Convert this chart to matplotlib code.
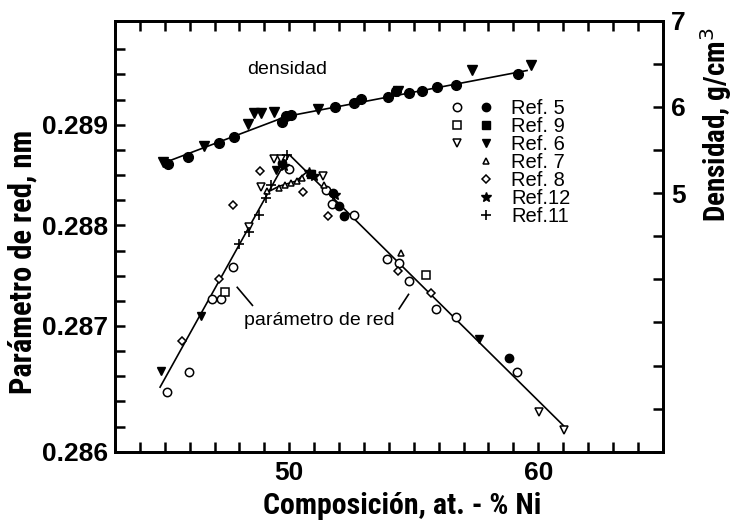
import numpy as np
import matplotlib
matplotlib.use("Agg")
from matplotlib import pyplot as plt
from matplotlib.ticker import MultipleLocator, FixedLocator
from matplotlib.lines import Line2D
from matplotlib.legend_handler import HandlerTuple

plt.rcParams['font.family'] = ['Liberation Sans', 'DejaVu Sans']
narrow = ['Liberation Sans Narrow', 'Arial Narrow', 'Roboto Condensed', 'Archivo Narrow',
          'PT Sans Narrow', 'Liberation Sans', 'DejaVu Sans']

# densidad (eje derecho, g/cm3)
dens_ref5_x = [45.12, 45.92, 47.19, 47.77, 49.71, 49.87, 50.07, 51.85, 52.61, 52.88,
               53.98, 54.30, 54.79, 55.35, 55.92, 56.69, 59.20]
dens_ref5_y = [5.34, 5.42, 5.58, 5.65, 5.82, 5.89, 5.91, 6.00, 6.05, 6.09,
               6.12, 6.18, 6.16, 6.19, 6.23, 6.25, 6.38]
dens_ref6_x = [44.92, 46.59, 48.33, 48.60, 48.86, 49.40, 51.14, 54.38, 57.35, 59.70]
dens_ref6_y = [5.36, 5.55, 5.80, 5.93, 5.93, 5.94, 5.97, 6.18, 6.43, 6.49]
dens_fit_x = [44.92, 49.88, 59.55]
dens_fit_y = [5.346, 5.889, 6.422]

# parametro de red (eje izquierdo, nm)
ref5_open_x = [45.08, 45.96, 46.90, 47.26, 47.73, 50.00, 51.47, 51.71, 52.61, 53.94,
               54.41, 54.81, 55.91, 56.69, 59.16]
ref5_open_y = [0.286345, 0.286544, 0.287272, 0.287265, 0.287585, 0.288565, 0.288356,
               0.288214, 0.288101, 0.287662, 0.287629, 0.287446, 0.287173, 0.287093,
               0.286538]
ref5_fill_x = [49.72, 51.74, 52.01, 52.21, 58.82]
ref5_fill_y = [0.288622, 0.288323, 0.288190, 0.288091, 0.286680]
ref9_open_x = [47.43, 55.48]
ref9_open_y = [0.287337, 0.287503]
ref9_fill_x = [50.88]
ref9_fill_y = [0.288515]
ref6_open_x = [48.37, 48.86, 49.40, 49.68, 51.34, 60.03, 61.03]
ref6_open_y = [0.287982, 0.288379, 0.288661, 0.288662, 0.288488, 0.286141, 0.285968]
ref6_fill_x = [44.85, 46.46, 49.48, 57.62]
ref6_fill_y = [0.286554, 0.287099, 0.288555, 0.286868]
ref7_x = [49.11, 49.60, 49.84, 50.08, 50.32, 50.52, 51.40, 54.48]
ref7_y = [0.288339, 0.288376, 0.288406, 0.288426, 0.288446, 0.288476, 0.288406, 0.287728]
ref8_x = [45.69, 47.19, 47.73, 48.82, 50.57, 51.54, 54.38, 55.68]
ref8_y = [0.286851, 0.287463, 0.288207, 0.288538, 0.288329, 0.288091, 0.287546, 0.287331]
ref12_x = [49.80, 50.80, 51.00, 51.85]
ref12_y = [0.288594, 0.288535, 0.288495, 0.288307]
ref11_x = [47.99, 48.40, 48.77, 49.07, 49.28, 49.89]
ref11_y = [0.287811, 0.287937, 0.288108, 0.288274, 0.288406, 0.288703]

lat_fit_x = [44.81, 50.00, 61.03]
lat_fit_y = [0.286392, 0.288703, 0.286005]
lat_branch_x = [49.07, 49.60, 50.27, 50.67]
lat_branch_y = [0.288324, 0.288390, 0.288440, 0.288524]

# lineas guia de la etiqueta "parametro de red"
guide1_x = [47.91, 48.52]
guide1_y = [0.287384, 0.287205]
guide2_x = [54.79, 54.41]
guide2_y = [0.287314, 0.287170]

left_ticks = [0.28575, 0.287, 0.288, 0.289]
left_tick_labels = ['0.286', '0.287', '0.288', '0.289']
right_ticks = [5, 6, 7]
x_ticks = [50, 60]

fig = plt.figure(figsize=(7.34, 5.21), dpi=100)
ax = fig.add_axes([0.1567, 0.1330, 0.7462, 0.8273])
ax2 = ax.twinx()

ms = 6.0
mew = 1.1
k = 'black'

# densidad
ax2.plot(dens_fit_x, dens_fit_y, color=k, lw=1.2)
ax2.plot(dens_ref5_x, dens_ref5_y, 'o', color=k, ms=7)
ax2.plot(dens_ref6_x, dens_ref6_y, 'v', color=k, ms=7)

# parametro de red
ax.plot(lat_fit_x, lat_fit_y, color=k, lw=1.2)
ax.plot(lat_branch_x, lat_branch_y, color=k, lw=1.2)
ax.plot(guide1_x, guide1_y, color=k, lw=1.2)
ax.plot(guide2_x, guide2_y, color=k, lw=1.2)

h5o, = ax.plot(ref5_open_x, ref5_open_y, 'o', mfc='white', mec=k, mew=mew, ms=ms)
h5f, = ax.plot(ref5_fill_x, ref5_fill_y, 'o', color=k, ms=ms)
h9o, = ax.plot(ref9_open_x, ref9_open_y, 's', mfc='white', mec=k, mew=mew, ms=ms - 0.5)
h9f, = ax.plot(ref9_fill_x, ref9_fill_y, 's', color=k, ms=ms - 0.5)
h6o, = ax.plot(ref6_open_x, ref6_open_y, 'v', mfc='white', mec=k, mew=mew, ms=ms)
h6f, = ax.plot(ref6_fill_x, ref6_fill_y, 'v', color=k, ms=ms)
h7, = ax.plot(ref7_x, ref7_y, '^', mfc='white', mec=k, mew=mew, ms=ms - 1)
h8, = ax.plot(ref8_x, ref8_y, 'D', mfc='white', mec=k, mew=mew, ms=ms - 1.5)
h12, = ax.plot(ref12_x, ref12_y, '*', color=k, ms=ms + 1)
h11, = ax.plot(ref11_x, ref11_y, '+', color=k, mew=1.2, ms=ms + 1)

ax2.text(49.92, 6.43, 'densidad', fontsize=14, ha='center', va='center')
ax.text(51.2, 0.28705, 'parámetro de red', fontsize=14, ha='center', va='center')

blank = Line2D([], [], linestyle='none')
handles = [(h5o, h5f), (h9o, h9f), (h6o, h6f), (blank, h7), (blank, h8),
           (blank, h12), (blank, h11)]
labels = ['Ref. 5', 'Ref. 9', 'Ref. 6', 'Ref. 7', 'Ref. 8', 'Ref.12', 'Ref.11']
ax.legend(handles, labels, handler_map={tuple: HandlerTuple(ndivide=None, pad=0.6)},
          loc='upper left', bbox_to_anchor=(0.609, 0.818), frameon=False,
          fontsize=14.5, labelspacing=-0.05, handlelength=2.3, handletextpad=0.8,
          borderpad=0, borderaxespad=0)

# ejes
ax.set_xlim(43, 65)
ax.set_ylim(0.28575, 0.290035)
ax2.set_ylim(2, 7)

ax.set_xticks(x_ticks)
ax.set_xticklabels([str(v) for v in x_ticks])
ax.xaxis.set_minor_locator(MultipleLocator(1))
ax.set_yticks(left_ticks)
ax.set_yticklabels(left_tick_labels)
ax.yaxis.set_minor_locator(FixedLocator(np.arange(0.286, 0.28976, 0.00025)))
ax2.set_yticks(right_ticks)
ax2.set_yticklabels([str(v) for v in right_ticks])
ax2.yaxis.set_minor_locator(MultipleLocator(0.5))

for lab in ax.get_xticklabels() + ax.get_yticklabels() + ax2.get_yticklabels():
    lab.set_fontsize(19)
    lab.set_fontweight('bold')

ax.tick_params(axis='x', which='both', direction='in', top=True, length=7, width=1.8, pad=7)
ax.tick_params(axis='y', which='both', direction='in', length=7, width=1.8, pad=5)
ax2.tick_params(axis='y', which='both', direction='in', length=7, width=1.8, pad=6)

for a in (ax, ax2):
    for s in a.spines.values():
        s.set_linewidth(2)

ax.set_xlabel('Composición, at. - % Ni', fontsize=21.5, fontweight='bold', family=narrow)
ax.xaxis.set_label_coords(0.525, -0.094)
ax.set_ylabel('Parámetro de red, nm', fontsize=22, fontweight='bold', family=narrow)
ax.yaxis.set_label_coords(-0.142, 0.44)
ax2.set_ylabel('Densidad, g/cm$^3$', fontsize=21, fontweight='bold', family=narrow)
ax2.yaxis.set_label_coords(1.064, 0.758)

fig.savefig('out.png', dpi=100)
